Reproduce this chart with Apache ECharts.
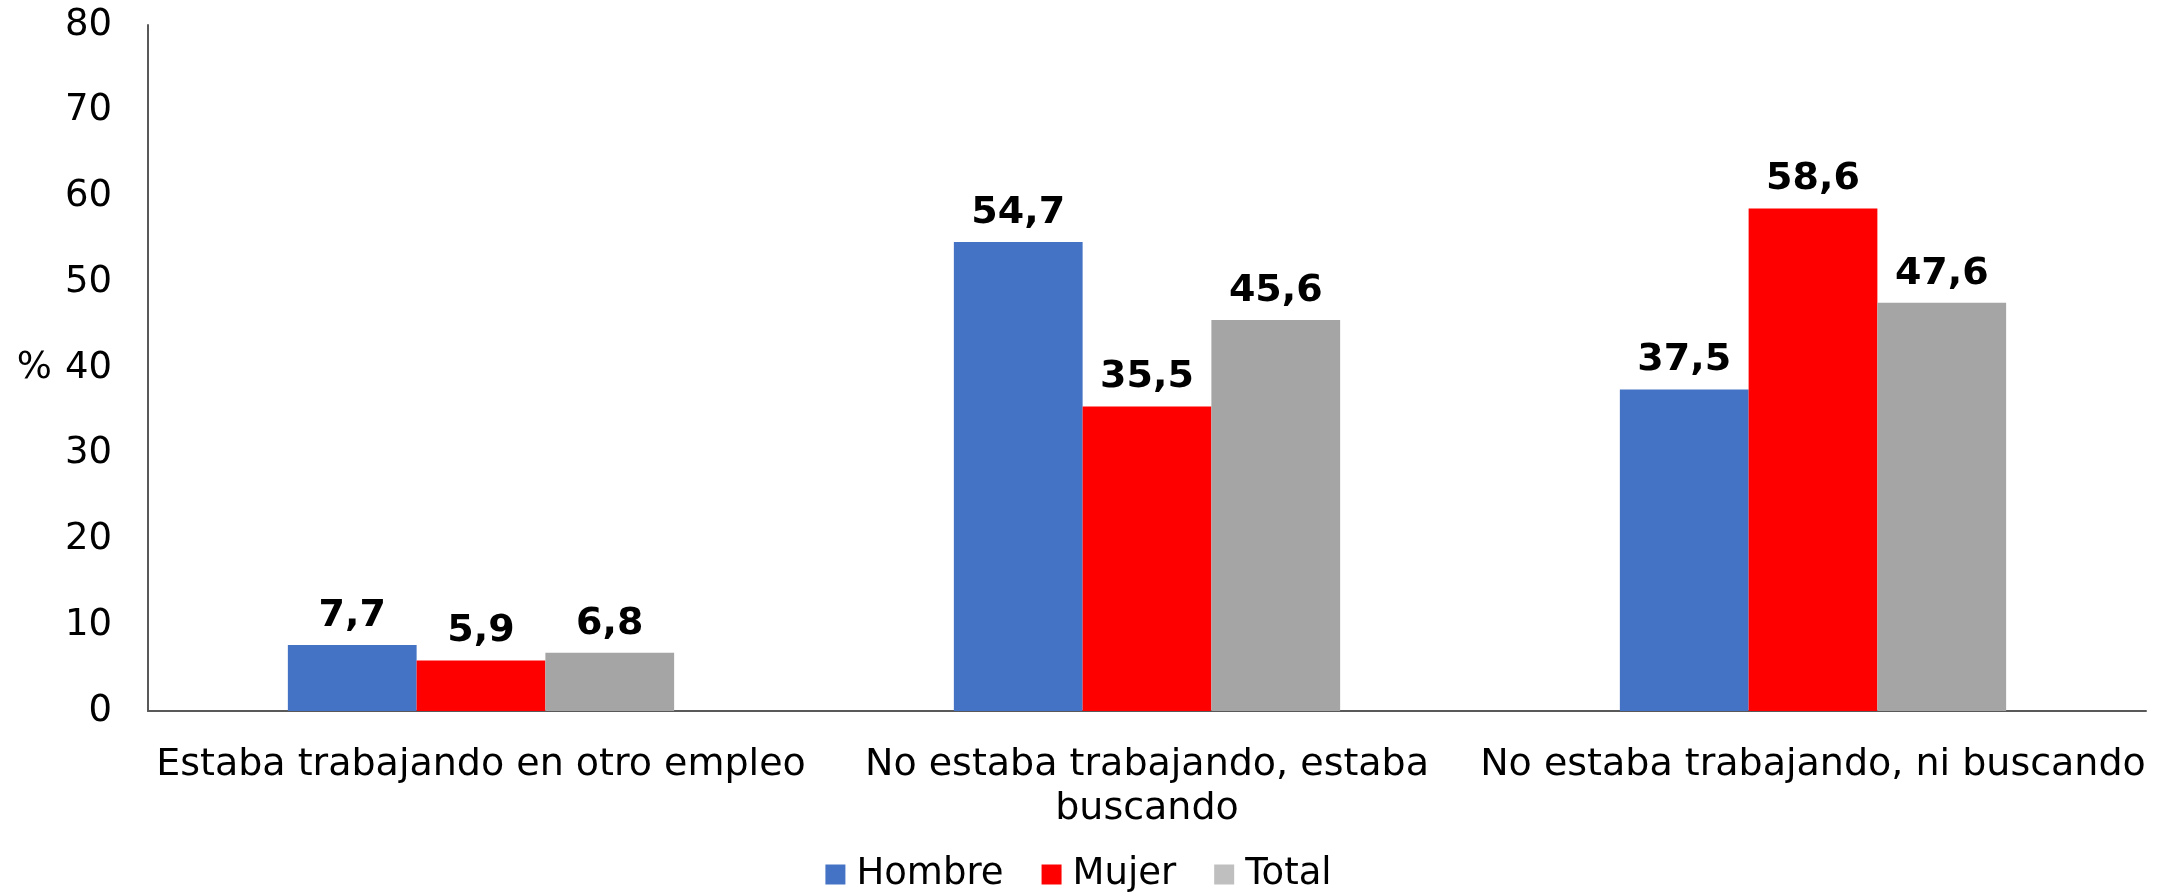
<!DOCTYPE html>
<html>
<head>
<meta charset="utf-8">
<script src="https://cdn.jsdelivr.net/npm/echarts@6/dist/echarts.min.js"></script>
<style>
  html, body { margin: 0; padding: 0; background: #fff; }
  #chart { width: 2157px; height: 895px; }
</style>
</head>
<body>
<div id="chart"></div>
<script>
// datos
const categories = [
  "Estaba trabajando en otro empleo",
  "No estaba trabajando, estaba\nbuscando",
  "No estaba trabajando, ni buscando"
];
const hombre = [7.7, 54.7, 37.5];
const mujer = [5.9, 35.5, 58.6];
const total = [6.8, 45.6, 47.6];
const yTicks = [0, 10, 20, 30, 40, 50, 60, 70, 80];

const font = "DejaVu Sans, Verdana, sans-serif";

const chart = echarts.init(document.getElementById("chart"));

const labelOpt = {
  show: true,
  position: "top",
  distance: 10,
  color: "#000",
  fontFamily: font,
  fontWeight: "bold",
  fontSize: 38,
  formatter: p => String(p.value).replace(".", ",")
};

function bar(name, data, color) {
  return {
    name: name,
    type: "bar",
    data: data,
    barGap: "0%",
    barCategoryGap: "42%",
    itemStyle: { color: color },
    label: labelOpt
  };
}

chart.setOption({
  animation: false,
  textStyle: { fontFamily: font },
  grid: { left: 148, right: 11, top: 25, bottom: 184 },
  legend: {
    bottom: -3,
    left: "center",
    itemWidth: 20,
    itemHeight: 20,
    itemGap: 38,
    icon: "rect",
    textStyle: { fontSize: 37, color: "#000", fontFamily: font, padding: [0, 0, 0, 6] },
    data: [
      { name: "Hombre" },
      { name: "Mujer" },
      { name: "Total", itemStyle: { color: "#BFBFBF" } }
    ]
  },
  xAxis: {
    type: "category",
    data: categories,
    axisLine: { lineStyle: { color: "#595959", width: 2 } },
    axisTick: { show: false },
    axisLabel: {
      color: "#000",
      fontSize: 38,
      fontFamily: font,
      margin: 32,
      lineHeight: 44,
      interval: 0
    }
  },
  yAxis: {
    type: "value",
    min: yTicks[0],
    max: yTicks[yTicks.length - 1],
    interval: 10,
    name: "%",
    nameLocation: "middle",
    nameRotate: 0,
    nameGap: 96,
    nameTextStyle: { fontSize: 37, color: "#000", fontFamily: font },
    splitLine: { show: false },
    axisLine: { show: true, lineStyle: { color: "#595959", width: 2 } },
    axisTick: { show: false },
    axisLabel: { color: "#000", fontSize: 37, fontFamily: font, margin: 36 }
  },
  series: [
    bar("Hombre", hombre, "#4472C4"),
    bar("Mujer", mujer, "#FF0000"),
    bar("Total", total, "#A5A5A5")
  ]
});
</script>
</body>
</html>
